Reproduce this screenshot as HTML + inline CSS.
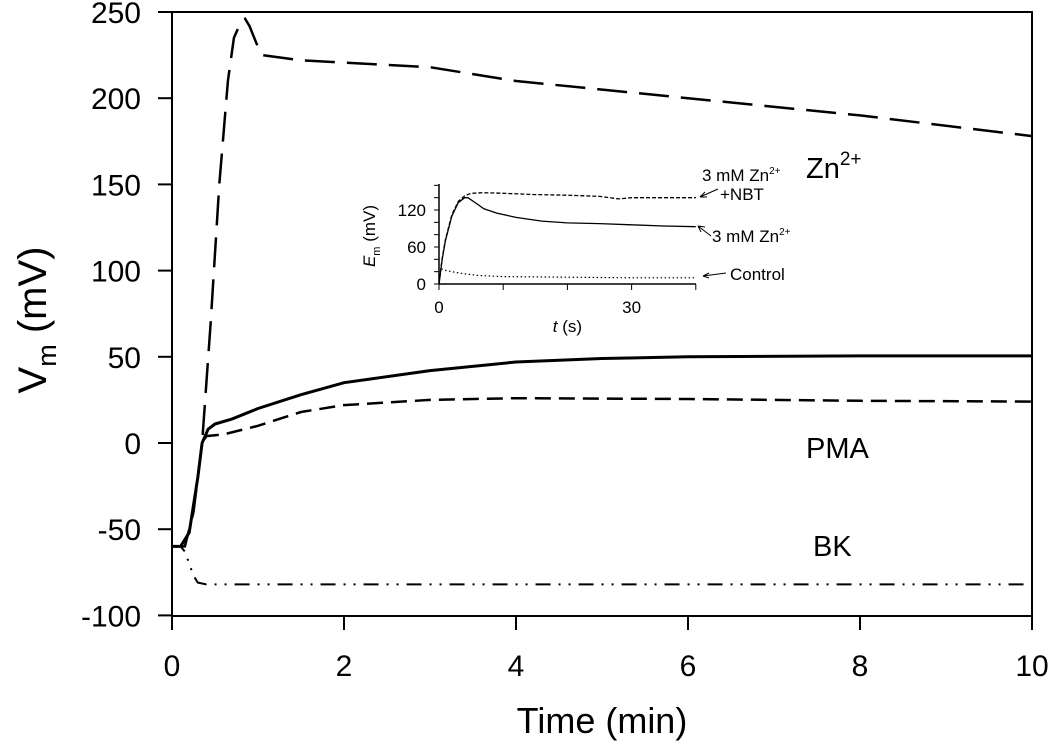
<!DOCTYPE html>
<html><head><meta charset="utf-8"><style>
body{margin:0;background:#fff}
svg{display:block;font-family:"Liberation Sans",Arial,sans-serif}
</style></head><body>
<svg id="c" width="1050" height="752" viewBox="0 0 1050 752"></svg>
<script>
const xTicks=[0,2,4,6,8,10];
const yTicks=[-100,-50,0,50,100,150,200,250];
const tPMA=[0,0.1,0.2,0.3,0.35,0.42,0.5,0.7,1,1.5,2,3,4,5,6,8,10];
const vPMA=[-60,-60,-52,-20,0,8,11,14,20,28,35,42,47,49,50,50.5,50.5];
const tPMA2=[0,0.1,0.2,0.3,0.35,0.4,0.6,1,1.5,2,3,4,6,8,10];
const vPMA2=[-60,-60,-52,-20,0,4,5,10,18,22,25,26,25.5,24.5,24];
const tZn=[0,0.15,0.25,0.35,0.45,0.55,0.65,0.72,0.8,0.85,0.9,0.98,1.05,1.5,3,4,6,8,10];
const vZn=[-60,-60,-40,0,70,150,210,235,244,246,242,232,225,222,218,210,200,190,178];
const tBK=[0,0.1,0.15,0.2,0.25,0.3,0.4,10];
const vBK=[-60,-60,-63,-70,-77,-81,-82,-82];
const itTicks=[0,10,20,30,40];
const iyTicks=[0,60,120];
const itZn=[0,0.5,1,2,3,4,4.5,5.5,7,9,12,16,20,25,30,35,40];
const ivZn=[0,40,70,110,132,140,140,133,122,115,108,102,99,98,96,94,93];
const itNBT=[0,0.5,1,2,3,4,5,7,10,15,20,25,28,30,35,40];
const ivNBT=[0,42,72,112,134,143,147,148,147,145,144,142,138,140,140,140];
const itCtl=[0,0.3,1,3,6,10,20,30,40];
const ivCtl=[0,25,22,18,14,12,11,10,10];

const NS="http://www.w3.org/2000/svg",svg=document.getElementById('c');
function el(t,a,p){const e=document.createElementNS(NS,t);for(const k in a)e.setAttribute(k,a[k]);(p||svg).appendChild(e);return e;}
const X=v=>172+v*(1032-172)/10, Y=v=>443-v*86.2/50;
const IX=v=>439+v*6.42, IY=v=>284-v*37/60;
function path(ts,vs,fx,fy){return ts.map((t,i)=>(i?'L':'M')+fx(t).toFixed(1)+','+fy(vs[i]).toFixed(1)).join('');}

let g=el('g',{});

el('rect',{x:172,y:12,width:860,height:604,fill:'none',stroke:'#000','stroke-width':2},g);
xTicks.forEach(v=>{el('line',{x1:X(v),x2:X(v),y1:616,y2:630,stroke:'#000','stroke-width':2},g);
 const t=el('text',{x:X(v),y:676,'font-size':30,'text-anchor':'middle'},g);t.textContent=v;
 });
yTicks.forEach(v=>{el('line',{x1:158,x2:172,y1:Y(v),y2:Y(v),stroke:'#000','stroke-width':2},g);
 const t=el('text',{x:141,y:Y(v)+11,'font-size':30,'text-anchor':'end'},g);t.textContent=v;
 });

let xt=el('text',{x:602,y:733,'font-size':36,'text-anchor':'middle'});xt.textContent='Time (min)';

let yt=el('text',{transform:'translate(46,320) rotate(-90)','font-size':40,'text-anchor':'middle'});
yt.innerHTML='V<tspan font-size="27" dy="10">m</tspan><tspan dy="-10"> (mV)</tspan>';


let s;
s=el('path',{d:path(tZn,vZn,X,Y),fill:'none',stroke:'#000','stroke-width':2.5,'stroke-dasharray':'30,12'});

s=el('path',{d:path(tPMA,vPMA,X,Y),fill:'none',stroke:'#000','stroke-width':3});

s=el('path',{d:path(tPMA2,vPMA2,X,Y),fill:'none',stroke:'#000','stroke-width':2.5,'stroke-dasharray':'16,8'});

s=el('path',{d:path(tBK,vBK,X,Y),fill:'none',stroke:'#000','stroke-width':2,'stroke-dasharray':'15,8,2,8,2,8'});


function lbl(x,y,html,name,fs){const t=el('text',{x:x,y:y,'font-size':fs||29});t.innerHTML=html;return t;}
lbl(806,178,'Zn<tspan font-size="19" dy="-13">2+</tspan>','zn-label');
lbl(806,458,'PMA','pma-label');
lbl(813,556,'BK','bk-label');

// inset
let ig=el('g',{});
el('line',{x1:439,x2:439,y1:184,y2:284,stroke:'#000','stroke-width':1.5},ig);
el('line',{x1:439,x2:696,y1:284,y2:284,stroke:'#000','stroke-width':1.5},ig);
[0,20,40,60,80,100,120,140,160].forEach(v=>el('line',{x1:434,x2:439,y1:IY(v),y2:IY(v),stroke:'#000','stroke-width':1},ig));
itTicks.forEach(v=>el('line',{x1:IX(v),x2:IX(v),y1:284,y2:290,stroke:'#000','stroke-width':1},ig));
iyTicks.forEach(v=>{const t=el('text',{x:426,y:IY(v)+6,'font-size':17,'text-anchor':'end'},ig);t.textContent=v;});
[0,30].forEach(v=>{const t=el('text',{x:IX(v),y:313,'font-size':17,'text-anchor':'middle'},ig);t.textContent=v;});
let it=el('text',{x:IX(20),y:332,'font-size':17,'text-anchor':'middle'},ig);it.innerHTML='<tspan font-style="italic">t</tspan> (s)';
let iy=el('text',{transform:'translate(375,236) rotate(-90)','font-size':17,'text-anchor':'middle'},ig);
iy.innerHTML='<tspan font-style="italic">E</tspan><tspan font-size="11" dy="5">m</tspan><tspan dy="-5"> (mV)</tspan>';
el('path',{d:path(itNBT,ivNBT,IX,IY),fill:'none',stroke:'#000','stroke-width':1.3,'stroke-dasharray':'4,2'},ig);
el('path',{d:path(itZn,ivZn,IX,IY),fill:'none',stroke:'#000','stroke-width':1.3},ig);
el('path',{d:path(itCtl,ivCtl,IX,IY),fill:'none',stroke:'#000','stroke-width':1.2,'stroke-dasharray':'1.5,2.5'},ig);
let a1=el('text',{x:702,y:181,'font-size':17},ig);a1.innerHTML='3 mM Zn<tspan font-size="10" dy="-7">2+</tspan>';
let a2=el('text',{x:720,y:200,'font-size':17},ig);a2.textContent='+NBT';
let a3=el('text',{x:712,y:242,'font-size':17},ig);a3.innerHTML='3 mM Zn<tspan font-size="10" dy="-7">2+</tspan>';
let a4=el('text',{x:730,y:280,'font-size':17},ig);a4.textContent='Control';
el('path',{d:'M718,189 L700,197 M700,197 l5,-5 M700,197 l7,0',stroke:'#000','stroke-width':1,fill:'none'},ig);
el('path',{d:'M711,236 L698,226 M698,226 l7,1 M698,226 l3,6',stroke:'#000','stroke-width':1,fill:'none'},ig);
el('path',{d:'M726,273 L703,276 M703,276 l6,-3 M703,276 l6,2',stroke:'#000','stroke-width':1,fill:'none'},ig);
</script>
</body></html>
